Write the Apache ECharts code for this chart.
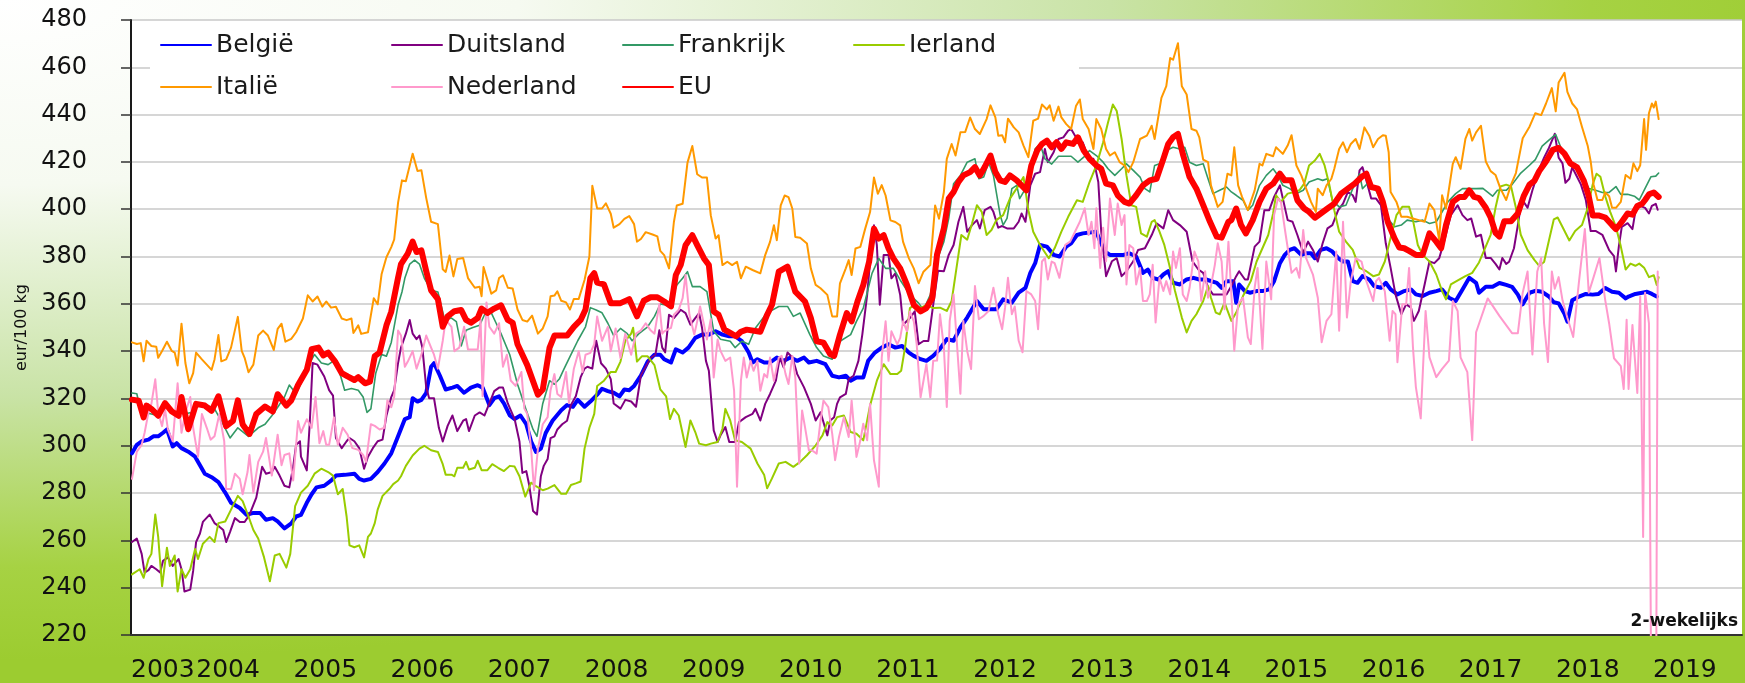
<!DOCTYPE html>
<html>
<head>
<meta charset="utf-8">
<script src="https://cdn.jsdelivr.net/npm/echarts@6/dist/echarts.min.js"></script>
<style>
  html, body { margin: 0; padding: 0; }
  body {
    width: 1745px; height: 683px; overflow: hidden;
    background: radial-gradient(ellipse 1850px 660px at 0 0, #ffffff 0%, #f6faf1 28%, #c9e3a6 60%, #a6d243 86%, #9ccc30 100%);
  }
  #chart { width: 1745px; height: 683px; }
</style>
</head>
<body>
<div id="chart"></div>
<script>
const seriesNames = ['België', 'Duitsland', 'Frankrijk', 'Ierland', 'Italië', 'Nederland', 'EU'];
const legendRow1 = ['België', 'Duitsland', 'Frankrijk', 'Ierland'];
const legendRow2 = ['Italië', 'Nederland', 'EU'];
const yearTicks = [2003,2004,2005,2006,2007,2008,2009,2010,2011,2012,2013,2014,2015,2016,2017,2018,2019];
const unitLabel = 'eur/100 kg';
const noteLabel = '2-wekelijks';

const BE = [[2003.01,296.8],[2003.06,300.4],[2003.11,301.9],[2003.18,302.6],[2003.23,304],[2003.28,304],[2003.33,305.5],[2003.37,306.9],[2003.40,303.3],[2003.43,299.7],[2003.47,301.1],[2003.52,299],[2003.59,297.5],[2003.66,295.4],[2003.71,291.8],[2003.76,288.2],[2003.83,286.7],[2003.90,284.6],[2003.97,280.2],[2004.03,275.9],[2004.12,273.7],[2004.19,270.8],[2004.26,271.6],[2004.33,271.6],[2004.39,268.7],[2004.46,269.4],[2004.51,268],[2004.58,265.1],[2004.65,267.2],[2004.70,270.1],[2004.75,270.8],[2004.81,275.9],[2004.86,279.5],[2004.91,282.4],[2004.99,283.1],[2005.06,285.3],[2005.11,287.4],[2005.20,287.7],[2005.30,288.2],[2005.35,286],[2005.40,285.3],[2005.47,286],[2005.54,288.9],[2005.61,292.5],[2005.68,296.8],[2005.75,304],[2005.82,311.3],[2005.87,312.1],[2005.90,320.1],[2005.95,318.7],[2005.99,319.4],[2006.04,322.4],[2006.09,333.4],[2006.12,334.9],[2006.18,329.7],[2006.24,323.8],[2006.31,324.6],[2006.36,325.3],[2006.43,322.4],[2006.50,324.6],[2006.57,325.6],[2006.62,324.6],[2006.69,317.2],[2006.74,320.1],[2006.79,320.9],[2006.84,317.9],[2006.90,312.8],[2006.95,311.3],[2007.01,312.8],[2007.07,309.1],[2007.12,301.8],[2007.17,297.4],[2007.22,298.8],[2007.27,305.4],[2007.34,310.6],[2007.43,315],[2007.49,317.2],[2007.55,316.5],[2007.60,319.4],[2007.67,316.5],[2007.73,318.7],[2007.80,321.6],[2007.85,324.1],[2007.91,323.1],[2007.97,322.4],[2008.03,320.9],[2008.08,323.8],[2008.13,323.5],[2008.18,325.3],[2008.25,329.7],[2008.32,335.6],[2008.39,338.5],[2008.45,338.5],[2008.49,336.6],[2008.56,335.2],[2008.61,340.8],[2008.68,339.4],[2008.74,341.5],[2008.81,345.6],[2008.88,347],[2008.95,347],[2009.02,348.4],[2009.09,347],[2009.16,346.3],[2009.22,346.3],[2009.29,344.2],[2009.36,339.4],[2009.40,335.2],[2009.45,336.6],[2009.52,335.2],[2009.58,335.2],[2009.65,337.3],[2009.72,335.9],[2009.79,337.3],[2009.86,335.9],[2009.93,337.3],[2009.98,335.2],[2010.06,335.9],[2010.15,334.5],[2010.22,329.6],[2010.29,328.9],[2010.36,329.6],[2010.41,327.5],[2010.47,328.9],[2010.54,328.9],[2010.59,335.9],[2010.66,339.4],[2010.73,341.5],[2010.80,342.9],[2010.87,341.5],[2010.94,342.2],[2011.01,339.4],[2011.06,338],[2011.13,336.6],[2011.19,335.9],[2011.26,338],[2011.33,341],[2011.40,345.1],[2011.47,344.4],[2011.54,350],[2011.61,354.2],[2011.66,357.7],[2011.71,361.2],[2011.78,357.7],[2011.85,357.7],[2011.91,357.7],[2011.98,361.9],[2012.07,360.5],[2012.14,364.7],[2012.21,366.8],[2012.26,373.1],[2012.31,377.2],[2012.36,384.9],[2012.43,384.2],[2012.50,380.7],[2012.56,380],[2012.63,384.2],[2012.68,385.6],[2012.74,389.1],[2012.80,389.8],[2012.87,390.2],[2012.94,390.5],[2012.98,386.3],[2013.03,382.1],[2013.08,380.7],[2013.15,380.7],[2013.22,380.7],[2013.28,381.4],[2013.35,380],[2013.42,373.1],[2013.47,374.5],[2013.52,371],[2013.58,370.3],[2013.63,372.4],[2013.68,373.8],[2013.73,368.9],[2013.80,368.2],[2013.87,370.3],[2013.94,371],[2014.00,370.3],[2014.07,370.3],[2014.18,368.9],[2014.23,366.8],[2014.28,369.6],[2014.35,369.6],[2014.38,360.5],[2014.41,368.2],[2014.47,365.4],[2014.52,364.7],[2014.59,365.4],[2014.65,365.4],[2014.72,366.1],[2014.77,369.6],[2014.83,377.2],[2014.88,380.7],[2014.93,382.8],[2014.98,383.5],[2015.05,380.7],[2015.10,381.4],[2015.15,381.4],[2015.19,379.3],[2015.25,382.8],[2015.31,383.5],[2015.37,382.1],[2015.43,379.3],[2015.48,377.9],[2015.53,377.9],[2015.58,369.6],[2015.63,368.9],[2015.68,371.7],[2015.75,370.3],[2015.80,367.5],[2015.87,366.8],[2015.92,368.9],[2015.97,366.1],[2016.04,364],[2016.11,365.4],[2016.18,366.1],[2016.23,364],[2016.30,363.3],[2016.37,364.7],[2016.44,365.4],[2016.50,366.1],[2016.57,362.6],[2016.64,361.2],[2016.71,366.1],[2016.78,371],[2016.85,368.9],[2016.88,364.7],[2016.95,367.2],[2017.02,367.2],[2017.09,368.8],[2017.16,368],[2017.22,367.2],[2017.28,363.9],[2017.33,359.8],[2017.40,364.7],[2017.46,365.5],[2017.53,365.1],[2017.60,363.1],[2017.65,360.7],[2017.70,360.2],[2017.76,355.8],[2017.79,352.5],[2017.84,361.5],[2017.91,363.1],[2017.98,364.2],[2018.05,363.9],[2018.11,364.2],[2018.18,366.7],[2018.25,365.1],[2018.32,364.7],[2018.39,362.3],[2018.42,363.1],[2018.49,364.2],[2018.56,364.7],[2018.61,365.1],[2018.66,364.2],[2018.71,363.1]];

const DE = [[2003.01,259.3],[2003.06,260.8],[2003.11,254.3],[2003.14,246.4],[2003.18,247.4],[2003.21,249.2],[2003.26,247.8],[2003.30,246.4],[2003.33,251.4],[2003.38,252.8],[2003.43,249.2],[2003.49,252.1],[2003.52,247.8],[2003.55,238.4],[2003.61,239.2],[2003.64,247.1],[2003.67,259.3],[2003.71,262.9],[2003.74,267.8],[2003.81,270.9],[2003.86,267.3],[2003.91,265.8],[2003.95,264.4],[2003.98,259.3],[2004.02,263.6],[2004.07,269.4],[2004.12,267.8],[2004.17,267.8],[2004.22,270.9],[2004.29,278.1],[2004.33,286.7],[2004.35,291.1],[2004.39,288.2],[2004.45,288.9],[2004.48,291.1],[2004.53,287.4],[2004.58,283.1],[2004.63,282.4],[2004.67,291.1],[2004.70,300.4],[2004.74,301.9],[2004.75,295.4],[2004.81,289.6],[2004.84,309.1],[2004.87,335],[2004.92,334.3],[2004.99,329.3],[2005.04,323.5],[2005.08,321.2],[2005.11,303.3],[2005.17,299],[2005.22,301.9],[2005.25,303.3],[2005.30,301.9],[2005.35,299],[2005.40,290.3],[2005.44,295.4],[2005.49,299],[2005.54,301.9],[2005.59,302.6],[2005.63,312.7],[2005.68,320.6],[2005.71,323.5],[2005.75,335],[2005.78,341.5],[2005.83,347.4],[2005.87,353.2],[2005.90,347.4],[2005.94,345.1],[2005.97,346.6],[2006.00,341.5],[2006.04,324.6],[2006.07,320.1],[2006.12,320.1],[2006.17,307.6],[2006.21,301.8],[2006.26,308.4],[2006.31,312.8],[2006.36,306.2],[2006.42,310.6],[2006.45,311.3],[2006.48,306.2],[2006.54,312.8],[2006.59,314.1],[2006.64,312.8],[2006.69,317.9],[2006.74,323.1],[2006.79,324.6],[2006.83,324.6],[2006.88,317.9],[2006.95,311.3],[2007.00,301.8],[2007.03,288.5],[2007.07,289.3],[2007.10,283.4],[2007.14,272.4],[2007.18,270.9],[2007.22,287.1],[2007.25,291.5],[2007.29,294.4],[2007.32,303.2],[2007.36,304],[2007.39,306.9],[2007.44,309.1],[2007.49,310.6],[2007.53,317.2],[2007.58,320.9],[2007.63,329],[2007.67,332.6],[2007.70,333.4],[2007.75,332.6],[2007.79,344.4],[2007.84,334.9],[2007.89,332.6],[2007.94,328.2],[2007.97,317.9],[2008.04,315.7],[2008.09,319.4],[2008.15,318.7],[2008.20,316.5],[2008.25,329.7],[2008.30,333.4],[2008.35,337.1],[2008.40,338.5],[2008.44,348.8],[2008.47,341.5],[2008.50,339.5],[2008.54,355.4],[2008.59,354],[2008.66,357.5],[2008.71,356.1],[2008.76,351.2],[2008.81,354],[2008.85,356.1],[2008.88,349.8],[2008.92,335.9],[2008.95,331.7],[2009.00,306.5],[2009.04,301.6],[2009.07,304.4],[2009.12,307.9],[2009.16,301.6],[2009.22,301.6],[2009.26,310],[2009.33,312.1],[2009.40,313.5],[2009.43,315.6],[2009.48,310.7],[2009.53,317.7],[2009.58,321.9],[2009.64,327.5],[2009.68,337.3],[2009.72,333.1],[2009.76,339.4],[2009.81,337.3],[2009.86,330.3],[2009.93,324.7],[2010.00,317.7],[2010.05,310.7],[2010.10,314.2],[2010.17,304.4],[2010.20,310.7],[2010.24,312.1],[2010.27,317.7],[2010.30,320.5],[2010.36,321.9],[2010.39,328.2],[2010.44,329.6],[2010.49,335.9],[2010.53,347],[2010.58,363.8],[2010.61,377.8],[2010.65,393.2],[2010.68,384.8],[2010.71,359.6],[2010.75,380.6],[2010.80,380.6],[2010.83,370.8],[2010.87,372.9],[2010.92,363.8],[2010.95,351.2],[2011.02,354],[2011.07,356.8],[2011.11,342.9],[2011.16,344.3],[2011.21,344.3],[2011.26,359.6],[2011.31,374],[2011.37,373.8],[2011.42,380.7],[2011.47,384.9],[2011.52,394.7],[2011.57,401],[2011.61,390.5],[2011.66,393.3],[2011.71,395.4],[2011.74,391.9],[2011.79,399.6],[2011.85,401],[2011.88,398.9],[2011.93,392.2],[2011.97,392.9],[2012.02,391.9],[2012.09,391.9],[2012.14,394.7],[2012.17,398.2],[2012.21,394.7],[2012.26,410.1],[2012.31,415],[2012.36,415.7],[2012.41,425.5],[2012.44,419.9],[2012.50,424.1],[2012.55,429.7],[2012.60,430.4],[2012.65,433.2],[2012.68,433.9],[2012.74,429.7],[2012.77,429],[2012.80,428.3],[2012.86,421.3],[2012.91,421.3],[2012.96,411.5],[2012.99,390.5],[2013.04,371.7],[2013.10,378],[2013.15,379.3],[2013.20,371.7],[2013.25,373.8],[2013.32,378],[2013.37,382.8],[2013.44,383.5],[2013.51,389.1],[2013.56,394],[2013.63,391.9],[2013.68,399.6],[2013.73,395.4],[2013.80,393.3],[2013.87,390.5],[2013.93,378],[2013.99,374.5],[2014.04,373.1],[2014.09,367],[2014.14,364],[2014.21,364],[2014.28,364],[2014.33,367.5],[2014.38,371.7],[2014.41,373.8],[2014.47,370.3],[2014.50,370.3],[2014.57,384.2],[2014.62,386.3],[2014.67,399.6],[2014.72,399.6],[2014.77,405.2],[2014.83,410.1],[2014.86,404.5],[2014.91,395.4],[2014.96,394.7],[2015.01,389.1],[2015.07,381.6],[2015.12,386.3],[2015.17,382.8],[2015.22,377.9],[2015.27,385.6],[2015.32,391.9],[2015.37,393.3],[2015.43,399.6],[2015.48,402.4],[2015.53,407.3],[2015.58,405.9],[2015.61,403.1],[2015.65,416.4],[2015.68,417.8],[2015.72,412.2],[2015.77,404.5],[2015.82,404.5],[2015.87,401.7],[2015.92,385.6],[2015.97,375.2],[2016.02,364],[2016.08,355.6],[2016.13,359.8],[2016.18,358.4],[2016.21,352.8],[2016.26,357],[2016.32,368.2],[2016.37,377.9],[2016.42,377.2],[2016.47,379.3],[2016.52,386.3],[2016.59,397.5],[2016.66,401.7],[2016.71,397.5],[2016.76,395.4],[2016.80,396.1],[2016.85,388.4],[2016.90,389.2],[2016.95,379.4],[2017.00,379.4],[2017.05,376.9],[2017.09,374.5],[2017.12,379.4],[2017.16,376.9],[2017.19,377.8],[2017.24,383.5],[2017.28,393.3],[2017.31,401.4],[2017.34,403.1],[2017.38,400.6],[2017.43,408],[2017.50,416.9],[2017.55,421.8],[2017.60,425.9],[2017.66,431.9],[2017.70,421.8],[2017.74,419.4],[2017.77,411.2],[2017.81,412.9],[2017.84,417.7],[2017.88,414.5],[2017.93,410.4],[2017.98,403.9],[2018.03,390.8],[2018.08,390.8],[2018.15,389.2],[2018.22,382.7],[2018.27,380.2],[2018.29,373.7],[2018.32,384.3],[2018.35,392.5],[2018.41,394.1],[2018.46,391.6],[2018.49,399],[2018.54,401.4],[2018.59,400.6],[2018.63,398.2],[2018.66,401.4],[2018.70,402.3],[2018.72,399.8]];

const FR = [[2003.01,322.3],[2003.06,322],[2003.09,316.3],[2003.14,314.1],[2003.21,313.4],[2003.28,312.7],[2003.35,317.7],[2003.40,315.6],[2003.49,314.1],[2003.55,313.4],[2003.62,314.1],[2003.69,317.7],[2003.79,317],[2003.86,315.6],[2003.93,310.5],[2004.02,303.3],[2004.10,307.6],[2004.21,304],[2004.31,307.6],[2004.38,309.1],[2004.45,312.7],[2004.51,316.3],[2004.58,320.6],[2004.63,325.7],[2004.70,322],[2004.75,326.4],[2004.84,335],[2004.89,338.6],[2004.96,335],[2005.03,334.3],[2005.11,336.5],[2005.20,323.5],[2005.27,324.2],[2005.34,323.5],[2005.39,320.6],[2005.43,314.1],[2005.47,315.6],[2005.52,330.7],[2005.58,338.6],[2005.63,337.9],[2005.68,343.7],[2005.75,359.5],[2005.79,365],[2005.82,370.9],[2005.87,376.8],[2005.92,378.5],[2005.97,376.8],[2006.02,370.9],[2006.09,365.7],[2006.16,365],[2006.23,353.2],[2006.30,354],[2006.35,352.5],[2006.40,342.2],[2006.45,348.8],[2006.52,350],[2006.59,351],[2006.64,355.4],[2006.71,356.2],[2006.76,351.8],[2006.81,347.4],[2006.90,338.5],[2006.98,326],[2007.07,315],[2007.14,306.9],[2007.18,304],[2007.24,317.9],[2007.31,327.5],[2007.36,326],[2007.41,328.2],[2007.46,332.6],[2007.53,338.5],[2007.60,344.4],[2007.68,350.3],[2007.73,358.4],[2007.79,357.4],[2007.85,356.2],[2007.91,351.8],[2007.97,346.6],[2008.04,349.6],[2008.11,347.4],[2008.16,344.4],[2008.23,347.4],[2008.32,350.3],[2008.39,354.7],[2008.45,359.9],[2008.49,359.6],[2008.56,361],[2008.62,368],[2008.68,370.8],[2008.73,373.6],[2008.78,367.3],[2008.86,367.3],[2008.93,365.2],[2009.00,348.4],[2009.07,345],[2009.17,344.2],[2009.22,341.5],[2009.29,344.2],[2009.36,342.9],[2009.43,349.8],[2009.52,354.7],[2009.58,356.8],[2009.67,358.9],[2009.76,358.9],[2009.82,354.7],[2009.89,356.1],[2009.99,347],[2010.06,341.5],[2010.13,338],[2010.22,336.6],[2010.30,344.2],[2010.41,347],[2010.47,352.6],[2010.54,358.2],[2010.63,372.9],[2010.70,379.2],[2010.77,375],[2010.85,375],[2010.92,370.1],[2011.02,363.8],[2011.11,360.3],[2011.16,357.5],[2011.23,363.8],[2011.30,378.5],[2011.37,386.3],[2011.42,396.1],[2011.47,410.8],[2011.54,414.3],[2011.61,419.9],[2011.69,421.3],[2011.73,412.9],[2011.78,413.6],[2011.83,419.9],[2011.88,414.3],[2011.95,397.5],[2011.98,393.3],[2012.02,396.1],[2012.07,408.7],[2012.12,410.1],[2012.15,404.5],[2012.21,408.7],[2012.26,415.7],[2012.31,425.5],[2012.36,427.6],[2012.41,421.3],[2012.48,419.1],[2012.55,422.4],[2012.62,422.4],[2012.68,422.4],[2012.75,419.9],[2012.81,422],[2012.87,424.8],[2012.94,422.7],[2013.01,419.9],[2013.06,417.1],[2013.13,414.3],[2013.20,417.1],[2013.25,419.2],[2013.32,416.4],[2013.39,413.6],[2013.44,408.7],[2013.49,407.3],[2013.54,418.5],[2013.59,419.2],[2013.66,424.8],[2013.73,426.2],[2013.80,425.5],[2013.85,426.2],[2013.90,419.9],[2013.97,418.5],[2014.04,419.2],[2014.09,412.9],[2014.14,406.6],[2014.21,408],[2014.28,409.4],[2014.33,407.3],[2014.38,405.9],[2014.45,403.8],[2014.50,399.6],[2014.55,401.7],[2014.62,410.1],[2014.69,414.3],[2014.76,417.1],[2014.81,414.3],[2014.86,410.1],[2014.93,408.7],[2015.00,406.6],[2015.07,408],[2015.13,411.5],[2015.22,412.9],[2015.27,412.2],[2015.32,412.9],[2015.37,403.8],[2015.44,401],[2015.51,401.7],[2015.58,408.7],[2015.65,415],[2015.68,408.7],[2015.73,410.8],[2015.80,409.4],[2015.87,403.8],[2015.94,396.1],[2016.01,392.6],[2016.08,393.3],[2016.14,395.4],[2016.23,394.7],[2016.30,395.4],[2016.37,394],[2016.44,394.7],[2016.49,398.2],[2016.56,403.1],[2016.64,406.6],[2016.71,408.7],[2016.78,408.7],[2016.85,408.7],[2016.92,408.8],[2017.02,405.5],[2017.07,408],[2017.16,408],[2017.22,410.4],[2017.31,415.3],[2017.40,418.6],[2017.46,421],[2017.53,426.7],[2017.60,429.2],[2017.67,431.6],[2017.74,424.3],[2017.81,420.2],[2017.87,418.6],[2017.94,414.5],[2018.01,408.8],[2018.08,408],[2018.15,407.1],[2018.22,407.1],[2018.29,409.6],[2018.34,406.3],[2018.41,406.3],[2018.48,405.5],[2018.53,403.9],[2018.59,408.8],[2018.65,413.7],[2018.70,414],[2018.73,415.3]];

const IE = [[2003.01,245.6],[2003.09,247.8],[2003.13,244.2],[2003.18,252.1],[2003.21,254.3],[2003.25,270.9],[2003.28,261.5],[2003.32,240.6],[2003.37,256.9],[2003.40,249.2],[2003.45,253.6],[2003.48,238.4],[2003.52,247.8],[2003.56,244.2],[2003.61,247.8],[2003.66,256.4],[2003.69,252.1],[2003.74,258.6],[2003.81,261.5],[2003.86,259.3],[2003.90,267.3],[2003.97,268],[2004.03,273],[2004.10,278.8],[2004.15,276.6],[2004.21,270.1],[2004.26,264.4],[2004.31,260.8],[2004.37,252.8],[2004.43,242.7],[2004.48,253.6],[2004.53,254.3],[2004.60,248.5],[2004.64,254.3],[2004.69,274.5],[2004.75,280.2],[2004.82,283.1],[2004.89,288.2],[2004.96,290.3],[2005.03,288.9],[2005.08,287.4],[2005.13,279.5],[2005.18,281.7],[2005.22,270.1],[2005.25,257.9],[2005.30,257.1],[2005.35,257.9],[2005.40,252.8],[2005.44,261.5],[2005.47,262.9],[2005.51,267.3],[2005.54,273],[2005.59,278.8],[2005.66,281.7],[2005.70,283.8],[2005.75,285.3],[2005.78,287.1],[2005.83,291.5],[2005.90,295.9],[2005.97,298.8],[2006.02,300],[2006.09,298.1],[2006.16,297.4],[2006.21,292.2],[2006.24,287.8],[2006.30,287.8],[2006.33,287.1],[2006.36,290.7],[2006.42,290.7],[2006.45,293.2],[2006.48,290],[2006.54,290.7],[2006.57,293.7],[2006.61,289.7],[2006.67,289.7],[2006.72,292.2],[2006.78,290.7],[2006.84,289.3],[2006.90,291.5],[2006.95,291.2],[2007.00,287.1],[2007.06,278.5],[2007.12,284.4],[2007.17,282.9],[2007.24,281.2],[2007.29,281.9],[2007.36,283.4],[2007.43,279.7],[2007.48,279.7],[2007.53,283.4],[2007.58,284.1],[2007.63,284.9],[2007.67,298.8],[2007.72,307.6],[2007.77,313.5],[2007.80,325.3],[2007.87,327.5],[2007.94,331.2],[2007.99,331.2],[2008.04,335.6],[2008.09,344.4],[2008.15,347.4],[2008.17,349.9],[2008.21,335.6],[2008.26,337.8],[2008.32,337.8],[2008.39,334.1],[2008.45,323.8],[2008.51,320.9],[2008.55,311.3],[2008.59,315.6],[2008.64,312.8],[2008.71,299.5],[2008.76,310.7],[2008.81,305.8],[2008.85,300.9],[2008.92,300.2],[2008.97,300.9],[2009.04,301.6],[2009.09,307.2],[2009.12,315.6],[2009.17,310.7],[2009.22,302.3],[2009.29,301.6],[2009.38,298.8],[2009.45,292.5],[2009.52,287.6],[2009.55,282],[2009.60,286.2],[2009.67,292.5],[2009.74,293.2],[2009.82,291.1],[2009.89,293.2],[2009.96,296],[2010.05,300.2],[2010.12,304.4],[2010.17,310],[2010.22,308.6],[2010.27,312.1],[2010.34,312.8],[2010.41,305.8],[2010.47,305.1],[2010.54,302.3],[2010.61,317],[2010.68,327.5],[2010.75,334.5],[2010.82,330.3],[2010.89,330.3],[2010.93,331.7],[2010.97,341.5],[2011.02,358.2],[2011.07,359.6],[2011.13,358.2],[2011.19,359.6],[2011.26,358.2],[2011.33,358.4],[2011.40,357],[2011.45,361.2],[2011.50,375.2],[2011.55,389.1],[2011.61,387.1],[2011.66,394],[2011.71,401.7],[2011.76,398.9],[2011.81,389.1],[2011.86,391.2],[2011.91,395.4],[2011.98,397.5],[2012.05,404.5],[2012.14,410.1],[2012.19,413.6],[2012.24,399.6],[2012.29,390.5],[2012.36,384.9],[2012.45,379.3],[2012.51,383.5],[2012.58,390.5],[2012.65,396.8],[2012.74,403.8],[2012.80,403.1],[2012.87,411.5],[2012.94,418.5],[2013.01,428.3],[2013.06,436.7],[2013.11,444.3],[2013.15,441.5],[2013.20,429.7],[2013.25,414.3],[2013.30,401.7],[2013.35,401],[2013.40,389.8],[2013.46,388.4],[2013.51,394.7],[2013.54,395.4],[2013.59,390.5],[2013.64,384.9],[2013.69,376.6],[2013.75,365.4],[2013.82,354.2],[2013.87,347.9],[2013.92,352.8],[2013.97,355.6],[2014.04,361.2],[2014.09,367.5],[2014.12,362.6],[2014.17,356.3],[2014.21,355.6],[2014.26,360.5],[2014.33,352.8],[2014.38,356.3],[2014.45,363.3],[2014.53,369.6],[2014.59,377.9],[2014.65,383.5],[2014.71,389.1],[2014.76,398.2],[2014.79,405.9],[2014.84,403.1],[2014.91,406.6],[2014.98,407.3],[2015.03,408],[2015.08,410.8],[2015.13,418.5],[2015.19,420.6],[2015.24,423.4],[2015.29,418.5],[2015.34,410.1],[2015.39,399.6],[2015.44,390.5],[2015.51,386.3],[2015.58,382.8],[2015.65,375.2],[2015.72,373.8],[2015.79,371.7],[2015.85,372.4],[2015.91,377.9],[2015.96,386.3],[2016.03,397.5],[2016.09,401],[2016.16,401],[2016.20,395.4],[2016.25,384.9],[2016.30,380.7],[2016.37,377.9],[2016.44,372.4],[2016.50,365.4],[2016.54,361.9],[2016.59,368.2],[2016.68,370.3],[2016.74,371.7],[2016.81,373.1],[2016.88,377.5],[2016.95,384.3],[2017.00,389.2],[2017.05,400.6],[2017.10,409.6],[2017.16,410.4],[2017.21,409.6],[2017.26,400.6],[2017.31,389.2],[2017.38,382.7],[2017.45,378.6],[2017.50,376.1],[2017.55,377.7],[2017.60,386.8],[2017.65,395.7],[2017.69,396.5],[2017.74,392.5],[2017.81,386.8],[2017.87,390.8],[2017.94,393.3],[2018.00,400.6],[2018.05,410.4],[2018.09,415],[2018.13,413.7],[2018.18,405.5],[2018.23,399],[2018.29,392.5],[2018.34,384.3],[2018.39,374.5],[2018.44,377],[2018.49,376.1],[2018.53,377],[2018.58,375.3],[2018.63,371.3],[2018.68,372.1],[2018.71,368],[2018.73,371.3]];

const IT = [[2003.01,343.7],[2003.06,343],[2003.10,343.4],[2003.13,335.7],[2003.16,344.4],[2003.21,342.2],[2003.26,341.9],[2003.28,337.2],[2003.32,340.1],[2003.37,344],[2003.42,340.1],[2003.45,339.4],[2003.48,333.9],[2003.52,351.6],[2003.56,335],[2003.60,326.4],[2003.64,330.7],[2003.67,339.4],[2003.73,336.5],[2003.78,334.3],[2003.83,332.1],[2003.86,336.5],[2003.90,346.8],[2003.93,335.7],[2003.98,336.5],[2004.03,341.5],[2004.10,354.5],[2004.14,340.1],[2004.17,337.2],[2004.21,331.1],[2004.26,334.3],[2004.31,346.6],[2004.36,348.7],[2004.41,346.6],[2004.47,340.5],[2004.51,349.4],[2004.55,351.6],[2004.59,344],[2004.65,345.2],[2004.70,348],[2004.77,353.8],[2004.82,363.6],[2004.87,361],[2004.92,363.1],[2004.97,358.8],[2005.01,361],[2005.06,358.4],[2005.11,358.8],[2005.17,353.8],[2005.22,353.1],[2005.27,353.8],[2005.29,347.7],[2005.34,350.9],[2005.37,347.3],[2005.44,348],[2005.47,355.2],[2005.50,362.4],[2005.54,359.8],[2005.58,372.5],[2005.63,379.7],[2005.68,384],[2005.71,387.2],[2005.75,402.8],[2005.79,412.2],[2005.83,411.8],[2005.90,423.5],[2005.95,416.2],[2005.99,416.5],[2006.04,404.7],[2006.09,394.7],[2006.16,393.7],[2006.21,374.6],[2006.24,373.5],[2006.28,380.4],[2006.32,371.6],[2006.36,379],[2006.42,379.4],[2006.47,370.9],[2006.54,366.8],[2006.59,367.2],[2006.61,363.2],[2006.63,375.6],[2006.67,370.1],[2006.71,364.3],[2006.76,365.7],[2006.79,370.9],[2006.83,372.1],[2006.88,366.8],[2006.93,366.5],[2006.98,357.6],[2007.03,353.2],[2007.08,352.5],[2007.13,355],[2007.19,347.4],[2007.24,349.6],[2007.29,354.7],[2007.32,363.2],[2007.36,363.5],[2007.39,365.3],[2007.43,361.3],[2007.48,360.6],[2007.52,357.6],[2007.56,362.1],[2007.61,362.1],[2007.67,370.1],[2007.72,380],[2007.75,409.9],[2007.80,400.3],[2007.85,400.3],[2007.89,402.5],[2007.94,398.1],[2007.97,392.2],[2008.03,393.7],[2008.08,395.9],[2008.13,397.1],[2008.18,393.7],[2008.21,386.3],[2008.25,387.4],[2008.30,390.3],[2008.37,389.3],[2008.42,388.5],[2008.45,382.4],[2008.49,380.6],[2008.54,375],[2008.59,394.6],[2008.62,401.6],[2008.68,402.3],[2008.73,419.7],[2008.78,426.7],[2008.83,414.8],[2008.88,413.4],[2008.93,413.4],[2008.97,397.4],[2009.02,387.6],[2009.05,389],[2009.09,376.4],[2009.14,377.8],[2009.19,376.4],[2009.24,377.8],[2009.28,370.8],[2009.33,375.7],[2009.40,374.3],[2009.48,372.9],[2009.53,380.6],[2009.58,386.2],[2009.62,393.2],[2009.65,386.9],[2009.69,401.6],[2009.73,405.8],[2009.77,405.1],[2009.81,400.2],[2009.84,388.3],[2009.89,387.9],[2009.96,385.5],[2010.00,375],[2010.05,368],[2010.10,366.6],[2010.17,363.8],[2010.22,354.7],[2010.27,354.7],[2010.30,368.7],[2010.36,375],[2010.39,378.5],[2010.42,372.2],[2010.46,383.4],[2010.51,384.1],[2010.56,391.8],[2010.61,398.8],[2010.65,413.4],[2010.69,406.5],[2010.73,410.2],[2010.77,405.8],[2010.82,395.3],[2010.87,394.6],[2010.92,393.2],[2010.95,386.2],[2011.01,379.2],[2011.06,375],[2011.11,368.7],[2011.16,373.6],[2011.23,376.4],[2011.28,401.6],[2011.32,396],[2011.37,407.3],[2011.40,421.3],[2011.45,427.6],[2011.49,422.7],[2011.54,432.5],[2011.59,432.7],[2011.64,438.8],[2011.69,433.9],[2011.74,431.8],[2011.81,438.1],[2011.85,443.9],[2011.90,438.8],[2011.93,431.1],[2011.97,431.3],[2012.00,428.3],[2012.03,438.3],[2012.09,434.6],[2012.14,432.5],[2012.19,426.9],[2012.24,422],[2012.29,437.4],[2012.34,438.3],[2012.38,444.3],[2012.43,442.2],[2012.46,443.9],[2012.50,437.4],[2012.55,443.4],[2012.58,438.8],[2012.63,436],[2012.68,433.9],[2012.73,443.6],[2012.77,446.4],[2012.80,438.1],[2012.86,433.9],[2012.91,425.5],[2012.94,438.1],[2012.99,433.9],[2013.04,425.5],[2013.08,422.7],[2013.13,424.1],[2013.18,419.9],[2013.23,418.5],[2013.27,415.7],[2013.32,419.9],[2013.39,429.7],[2013.46,431.1],[2013.51,435.3],[2013.54,429.7],[2013.61,447.1],[2013.66,452],[2013.70,463.9],[2013.73,463.2],[2013.78,470.2],[2013.82,452],[2013.87,448.5],[2013.92,433.9],[2013.97,433.2],[2014.00,430.4],[2014.04,421],[2014.09,419.9],[2014.12,410.1],[2014.19,401],[2014.24,403.1],[2014.29,415],[2014.33,414.3],[2014.36,426.2],[2014.40,410.1],[2014.44,405.2],[2014.50,399.6],[2014.57,408],[2014.62,419.2],[2014.65,418.5],[2014.69,423.4],[2014.76,422.4],[2014.79,426.2],[2014.86,423.4],[2014.91,426.9],[2014.95,431.3],[2015.00,418.5],[2015.05,414.3],[2015.10,408.7],[2015.15,403.1],[2015.20,398.9],[2015.22,408.7],[2015.27,405.9],[2015.31,410.1],[2015.36,412.9],[2015.39,417.1],[2015.44,425.5],[2015.48,428.3],[2015.52,424.1],[2015.56,427.6],[2015.61,429.7],[2015.65,425.5],[2015.70,434.6],[2015.75,431.1],[2015.79,426.2],[2015.84,429.7],[2015.89,431.3],[2015.92,431.1],[2015.95,424.1],[2015.97,407.3],[2016.03,403.1],[2016.08,396.8],[2016.14,396.8],[2016.20,396.1],[2016.26,395.4],[2016.32,394.7],[2016.37,402.4],[2016.42,399.6],[2016.45,391.9],[2016.47,387],[2016.50,405.9],[2016.54,400.3],[2016.61,419.2],[2016.64,422],[2016.69,417.1],[2016.74,429.7],[2016.78,433.9],[2016.81,429],[2016.85,432.5],[2016.90,435.3],[2016.92,435.7],[2016.95,420.2],[2017.00,416.1],[2017.05,414.5],[2017.10,408.8],[2017.16,403.9],[2017.21,410.4],[2017.26,415.3],[2017.33,430],[2017.40,434.9],[2017.46,440.6],[2017.52,439.8],[2017.57,444.7],[2017.63,451.2],[2017.67,441.4],[2017.70,453.6],[2017.72,453.6],[2017.76,457.7],[2017.79,449.6],[2017.84,444.7],[2017.89,442.2],[2017.94,434.9],[2018.00,426.7],[2018.03,420.2],[2018.06,410.4],[2018.10,403.9],[2018.15,403.9],[2018.18,407.1],[2018.22,405.5],[2018.25,400.6],[2018.29,400.6],[2018.34,403.1],[2018.39,414.5],[2018.44,412.9],[2018.47,419.4],[2018.51,416.1],[2018.54,418.6],[2018.58,438.1],[2018.60,425.1],[2018.63,440.6],[2018.66,444.7],[2018.68,443],[2018.70,445.5],[2018.73,438.1]];

const NL = [[2003.01,286],[2003.06,297.5],[2003.11,300.4],[2003.14,305.5],[2003.18,314.1],[2003.21,317.7],[2003.25,328.1],[2003.28,314.1],[2003.32,308.3],[2003.35,315.6],[2003.38,306.9],[2003.43,301.9],[2003.48,326.4],[2003.52,305.5],[2003.56,314.1],[2003.61,320.6],[2003.64,307.6],[2003.69,295.4],[2003.73,313.4],[2003.78,307.6],[2003.82,302.6],[2003.86,304],[2003.91,313.4],[2003.96,301.9],[2003.98,281.7],[2004.03,281.7],[2004.07,288.2],[2004.12,286],[2004.15,279.5],[2004.20,288.9],[2004.22,296.1],[2004.26,280.2],[2004.31,293.2],[2004.36,297.5],[2004.39,303.3],[2004.45,287.4],[2004.51,304.7],[2004.55,291.8],[2004.58,296.1],[2004.63,296.8],[2004.67,285.3],[2004.72,310.5],[2004.75,305.5],[2004.81,311.2],[2004.86,307.6],[2004.90,320.6],[2004.94,301.1],[2004.98,306.2],[2005.01,300.4],[2005.04,300.4],[2005.09,312],[2005.13,300.4],[2005.18,307.6],[2005.23,304.7],[2005.28,299],[2005.34,298.3],[2005.39,296.1],[2005.42,293.2],[2005.47,309.1],[2005.51,308.4],[2005.56,306.9],[2005.61,307.6],[2005.64,319.2],[2005.68,316.3],[2005.71,320.6],[2005.75,348.7],[2005.78,346.6],[2005.82,333.4],[2005.85,335.6],[2005.90,340],[2005.94,332.6],[2005.99,338.5],[2006.04,346.6],[2006.09,341.5],[2006.12,338.5],[2006.16,332.6],[2006.21,344.4],[2006.24,353.2],[2006.30,350.3],[2006.33,340],[2006.38,341.5],[2006.43,350.3],[2006.47,340.7],[2006.52,340.7],[2006.57,340.7],[2006.60,353.2],[2006.62,320.9],[2006.66,360.6],[2006.69,350.3],[2006.74,347.4],[2006.79,351.8],[2006.83,333.4],[2006.87,338.5],[2006.91,327.6],[2006.96,325.3],[2007.02,331.2],[2007.05,315.7],[2007.08,313.5],[2007.12,298.8],[2007.15,281.2],[2007.19,298.8],[2007.24,309.1],[2007.29,312.1],[2007.32,323.5],[2007.36,330.3],[2007.39,321.9],[2007.43,320.6],[2007.48,331.2],[2007.51,318],[2007.56,332.6],[2007.61,340],[2007.65,331.2],[2007.68,338.5],[2007.73,339.3],[2007.77,343],[2007.80,354.7],[2007.85,344.4],[2007.91,350.3],[2007.94,340],[2007.99,349.6],[2008.04,337.1],[2008.09,347.4],[2008.15,338.5],[2008.20,347.4],[2008.25,348.8],[2008.30,351.8],[2008.35,348.8],[2008.39,347.4],[2008.44,359.9],[2008.47,347.4],[2008.49,348.4],[2008.56,349.8],[2008.59,355.4],[2008.64,357.5],[2008.68,362.4],[2008.71,372.2],[2008.75,355.4],[2008.80,347],[2008.83,352.6],[2008.86,358.9],[2008.90,351.2],[2008.93,344.9],[2008.97,353.6],[2009.00,328.9],[2009.04,344.9],[2009.07,340.1],[2009.12,335.9],[2009.17,337.3],[2009.21,323.3],[2009.24,282.7],[2009.28,327.5],[2009.31,337.3],[2009.34,328.9],[2009.38,335.9],[2009.41,331.7],[2009.45,335.9],[2009.48,323.3],[2009.52,330.3],[2009.55,328.9],[2009.58,337.3],[2009.62,327.5],[2009.67,337.3],[2009.70,338],[2009.74,330.3],[2009.77,326.1],[2009.81,338],[2009.84,328.9],[2009.88,292.5],[2009.91,314.9],[2009.94,307.9],[2009.98,298.1],[2010.01,298.1],[2010.06,296.7],[2010.10,310.7],[2010.13,319.1],[2010.18,316.3],[2010.22,305.1],[2010.25,293.9],[2010.29,303.7],[2010.34,312.1],[2010.39,303.7],[2010.42,319.1],[2010.47,295.3],[2010.51,302.3],[2010.54,309.3],[2010.58,302.3],[2010.61,317.7],[2010.65,293.9],[2010.70,282.7],[2010.73,337.3],[2010.77,352.6],[2010.80,335.9],[2010.83,348.4],[2010.89,342.9],[2010.92,345.6],[2010.95,352.6],[2010.99,348.4],[2011.02,356.8],[2011.06,352.6],[2011.09,342.9],[2011.13,320.5],[2011.16,327.5],[2011.19,334.5],[2011.23,320.5],[2011.26,335.9],[2011.30,336],[2011.33,355.6],[2011.37,341.6],[2011.40,316.4],[2011.43,352.8],[2011.47,364],[2011.50,345.8],[2011.54,322],[2011.57,352.8],[2011.61,340.1],[2011.65,332.4],[2011.69,367.5],[2011.73,353.5],[2011.78,354.9],[2011.83,357],[2011.88,366.8],[2011.93,355.6],[2011.97,349.3],[2012.00,358.4],[2012.03,371],[2012.07,355.6],[2012.10,358.9],[2012.14,344.4],[2012.18,339.5],[2012.22,365.4],[2012.27,364],[2012.31,361.2],[2012.34,349.3],[2012.38,377.9],[2012.41,379.3],[2012.44,370.3],[2012.48,377.9],[2012.51,377.2],[2012.56,371],[2012.62,384.9],[2012.67,386.3],[2012.72,390.5],[2012.77,394.7],[2012.82,400.4],[2012.86,389.1],[2012.89,394.7],[2012.92,383.5],[2012.94,400.4],[2012.98,375.2],[2013.01,392.2],[2013.04,378],[2013.08,404.5],[2013.13,389.1],[2013.16,402.4],[2013.20,393.3],[2013.23,397.5],[2013.25,368.2],[2013.28,384.9],[2013.32,383.5],[2013.35,368.2],[2013.39,375.2],[2013.42,361.2],[2013.46,361.2],[2013.49,364],[2013.52,376.5],[2013.55,352.1],[2013.59,371],[2013.63,365.4],[2013.66,369.6],[2013.70,364],[2013.73,382.1],[2013.76,375.2],[2013.80,383.5],[2013.83,364],[2013.87,361.2],[2013.90,366.8],[2013.95,382.1],[2013.99,378],[2014.02,361.2],[2014.06,373.8],[2014.09,362.6],[2014.11,365.4],[2014.16,376.5],[2014.19,385.6],[2014.23,377.9],[2014.26,357.7],[2014.30,386.3],[2014.33,364],[2014.36,340.2],[2014.40,359.8],[2014.45,362.6],[2014.50,345.8],[2014.53,343],[2014.57,366.8],[2014.60,375.2],[2014.65,340.9],[2014.69,377.9],[2014.74,361.9],[2014.77,397.5],[2014.81,404.5],[2014.84,403.1],[2014.89,389.1],[2014.95,373.1],[2015.00,375.2],[2015.03,371],[2015.07,391.2],[2015.10,379.3],[2015.17,372.4],[2015.22,362.6],[2015.26,343.8],[2015.31,352.8],[2015.36,355.6],[2015.41,382.1],[2015.44,348.6],[2015.48,394.7],[2015.52,354.2],[2015.56,369.6],[2015.61,379.3],[2015.67,377.9],[2015.72,369.6],[2015.79,361.2],[2015.82,369.6],[2015.85,371],[2015.91,365.4],[2015.96,344.4],[2015.99,357],[2016.02,355.6],[2016.04,335.3],[2016.09,359.8],[2016.13,359.8],[2016.16,375.2],[2016.20,341.6],[2016.23,324.8],[2016.28,311.6],[2016.33,357],[2016.37,337.4],[2016.44,329],[2016.50,332.5],[2016.57,336],[2016.61,361.2],[2016.66,357],[2016.69,337.4],[2016.76,331.1],[2016.81,302.4],[2016.85,348],[2016.97,362.3],[2017.09,354.9],[2017.22,347.6],[2017.28,347.6],[2017.33,364.7],[2017.38,373.7],[2017.43,338.6],[2017.48,373.7],[2017.52,379.4],[2017.55,351.7],[2017.59,335.4],[2017.63,373.7],[2017.66,366.4],[2017.70,371.3],[2017.74,361.5],[2017.79,354.1],[2017.85,346],[2017.91,369.6],[2017.97,391.6],[2018.01,364.7],[2018.06,371.3],[2018.12,379.4],[2018.18,361.5],[2018.22,351.7],[2018.27,337],[2018.34,333.7],[2018.37,324],[2018.40,353.3],[2018.42,324],[2018.46,351.1],[2018.47,351.1],[2018.51,322.3],[2018.54,363.1],[2018.57,261.4],[2018.59,364.7],[2018.63,351.7],[2018.66,150],[2018.70,150],[2018.72,373.7]];

const EU = [[2003.01,319.5],[2003.08,319],[2003.13,312],[2003.16,317],[2003.21,315.6],[2003.28,312.7],[2003.35,318],[2003.42,314.5],[2003.49,312.7],[2003.52,320.6],[2003.59,307],[2003.67,317.7],[2003.76,317],[2003.83,314.8],[2003.90,320.9],[2003.98,308.3],[2004.05,310.5],[2004.10,319.2],[2004.15,309],[2004.22,305],[2004.29,313.4],[2004.38,316.6],[2004.46,314.5],[2004.51,321.8],[2004.60,317],[2004.65,319.2],[2004.72,325.7],[2004.81,332.1],[2004.86,340.8],[2004.93,341.5],[2004.98,338.2],[2005.03,339.4],[2005.10,335.7],[2005.17,330.7],[2005.23,329.3],[2005.30,327.8],[2005.34,329],[2005.41,326.4],[2005.46,327.1],[2005.51,337.9],[2005.56,339.4],[2005.63,350.9],[2005.68,356.7],[2005.75,371.1],[2005.78,376.8],[2005.85,381.2],[2005.90,386.3],[2005.94,381.9],[2005.99,382.6],[2006.04,373.8],[2006.09,365.7],[2006.16,362],[2006.21,350.3],[2006.26,354.7],[2006.33,356.9],[2006.40,357.4],[2006.45,353.2],[2006.50,352],[2006.57,354],[2006.61,358],[2006.67,356.2],[2006.74,358],[2006.81,359.4],[2006.88,353.2],[2006.93,352],[2006.98,342.9],[2007.08,334.1],[2007.19,321.6],[2007.24,323.8],[2007.31,341.5],[2007.36,346.6],[2007.49,346.6],[2007.56,350.3],[2007.63,353.2],[2007.68,357.6],[2007.73,370.9],[2007.77,373],[2007.80,369],[2007.87,368.2],[2007.94,360.3],[2008.04,360.3],[2008.13,362],[2008.21,354.7],[2008.28,361.3],[2008.35,362.8],[2008.42,362.8],[2008.49,361],[2008.56,358.9],[2008.61,372.2],[2008.66,376.4],[2008.71,384.8],[2008.78,389],[2008.83,384.8],[2008.90,379.2],[2008.95,376.4],[2009.00,356.8],[2009.05,355.4],[2009.11,349.1],[2009.17,347.7],[2009.23,346.3],[2009.28,348.2],[2009.34,349.1],[2009.48,348.2],[2009.55,355.4],[2009.60,359.6],[2009.67,373.6],[2009.76,375.7],[2009.84,365.2],[2009.94,361],[2010.00,354],[2010.06,344.2],[2010.13,343.6],[2010.20,338.7],[2010.24,338],[2010.30,347],[2010.37,356.1],[2010.42,352.6],[2010.48,361],[2010.54,368],[2010.60,377.8],[2010.65,391.8],[2010.70,387.6],[2010.75,389],[2010.80,383.4],[2010.85,379.2],[2010.92,375],[2010.99,368],[2011.06,359.6],[2011.13,356.8],[2011.19,358.2],[2011.25,362.4],[2011.30,381],[2011.37,392],[2011.42,404.5],[2011.47,407.3],[2011.52,411.5],[2011.57,414.3],[2011.64,415.7],[2011.69,417.8],[2011.74,414.3],[2011.79,417.8],[2011.85,422.7],[2011.90,415.7],[2011.95,412.2],[2012.00,411.5],[2012.05,414.3],[2012.12,412.2],[2012.17,410.1],[2012.22,408],[2012.27,418.5],[2012.33,424.8],[2012.38,427.6],[2012.43,429],[2012.48,426.2],[2012.53,428.3],[2012.58,425.5],[2012.63,428.3],[2012.70,427.6],[2012.75,430.4],[2012.81,424.8],[2012.87,421.3],[2012.94,418.5],[2012.99,417.1],[2013.04,410.8],[2013.11,410.1],[2013.16,405.9],[2013.23,403.1],[2013.28,402.4],[2013.35,405.9],[2013.42,410.1],[2013.49,412.2],[2013.56,412.9],[2013.63,421.3],[2013.68,427.6],[2013.73,430.4],[2013.78,431.8],[2013.83,423.4],[2013.90,413.6],[2013.97,408.7],[2014.04,401.7],[2014.11,394.7],[2014.18,388.4],[2014.23,388],[2014.30,394.7],[2014.33,395.4],[2014.38,400.3],[2014.43,393.3],[2014.48,389.8],[2014.55,395.4],[2014.62,403.1],[2014.69,408.7],[2014.76,410.8],[2014.83,415],[2014.88,412.2],[2014.95,412.2],[2015.01,403.8],[2015.08,400.3],[2015.13,398.9],[2015.19,396.4],[2015.25,398.2],[2015.32,400.3],[2015.39,402.4],[2015.46,406.6],[2015.53,408.7],[2015.60,410.8],[2015.67,413.6],[2015.72,415],[2015.77,409.4],[2015.84,408.7],[2015.89,403.1],[2015.94,394.7],[2016.01,387.7],[2016.06,383.8],[2016.11,383.5],[2016.16,382.4],[2016.23,380.7],[2016.30,380.7],[2016.37,389.8],[2016.44,386.3],[2016.49,383.5],[2016.54,393.3],[2016.61,403.1],[2016.68,405.2],[2016.73,405.2],[2016.78,408],[2016.83,405.2],[2016.88,404.7],[2016.95,400.6],[2017.00,396.5],[2017.05,390],[2017.09,388.4],[2017.14,394.9],[2017.21,394.9],[2017.28,398.2],[2017.34,405.5],[2017.40,410.4],[2017.45,412],[2017.50,416.1],[2017.57,420.2],[2017.64,425.1],[2017.70,425.9],[2017.76,423.5],[2017.82,419.4],[2017.89,417.7],[2017.96,412],[2018.01,405.5],[2018.05,397.4],[2018.11,397.4],[2018.18,396.5],[2018.25,393.3],[2018.29,391.6],[2018.34,394.1],[2018.41,398.2],[2018.46,397.7],[2018.51,401.4],[2018.56,402.3],[2018.59,403.9],[2018.63,406.3],[2018.68,407.1],[2018.73,405.2]];

const seriesData = [BE, DE, FR, IE, IT, NL, EU];
const seriesColors = ['#0000ff', '#800080', '#339966', '#99cc00', '#ff9900', '#ff99cc', '#ff0000'];
const seriesWidths = [4, 2, 1.6, 2, 2, 2, 6];

const chart = echarts.init(document.getElementById('chart'), null, { renderer: 'canvas' });
const FONT = 'DejaVu Sans';

function legendRow(names, top, padding) {
  return {
    data: names,
    left: 150, top: top,
    orient: 'horizontal',
    itemWidth: 50, itemHeight: 14, itemGap: 15,
    padding: padding,
    backgroundColor: '#ffffff',
    itemStyle: { opacity: 0, borderWidth: 0 },
    formatter: n => '{t|' + n + '}',
    textStyle: {
      color: '#1a1a1a', fontSize: 25, fontFamily: FONT, lineHeight: 30,
      rich: { t: { width: 160, height: 30, lineHeight: 30, fontSize: 25, fontFamily: FONT, color: '#1a1a1a' } }
    }
  };
}

const option = {
  animation: false,
  backgroundColor: 'transparent',
  textStyle: { fontFamily: FONT },
  grid: { left: 131, right: 0, top: 20, bottom: 43, show: true, backgroundColor: '#ffffff', borderWidth: 0 },
  legend: [
    legendRow(legendRow1, 22, [8, 10, 12, 10]),
    legendRow(legendRow2, 72, [0, 10, 8, 10])
  ],
  xAxis: {
    type: 'value', min: 2003, max: 2019.588, interval: 1,
    axisLine: { show: true, lineStyle: { color: '#333333', width: 2 } },
    axisTick: { show: false },
    splitLine: { show: false },
    axisLabel: {
      fontSize: 25, color: '#111111', margin: 23, fontFamily: FONT,
      alignMinLabel: 'left',
      formatter: v => yearTicks.includes(Math.round(v)) && Math.abs(v - Math.round(v)) < 1e-6 ? String(Math.round(v)) : ''
    }
  },
  yAxis: {
    type: 'value', min: 220, max: 480, interval: 20,
    name: unitLabel, nameLocation: 'middle', nameRotate: 90, nameGap: 100,
    nameTextStyle: { fontSize: 16, color: '#111111', fontFamily: FONT },
    axisLine: { show: true, lineStyle: { color: '#1a1a1a', width: 2 } },
    axisTick: { show: true, length: 10, lineStyle: { color: '#333333', width: 1.5 } },
    axisLabel: { fontSize: 24, color: '#111111', margin: 44, fontFamily: FONT },
    splitLine: { show: true, lineStyle: { color: '#c8c8c8', width: 1.5 } }
  },
  graphic: [{
    type: 'text', right: 7, top: 613, z: 100,
    style: { text: noteLabel, font: 'bold 17px "DejaVu Sans"', fill: '#111111' }
  }],
  series: seriesNames.map((name, i) => ({
    name: name, type: 'line', data: seriesData[i],
    symbol: 'none', showSymbol: false, clip: true,
    color: seriesColors[i],
    lineStyle: { color: seriesColors[i], width: seriesWidths[i], join: 'round', cap: 'round' },
    z: 2 + i
  }))
};
chart.setOption(option);
</script>
</body>
</html>
